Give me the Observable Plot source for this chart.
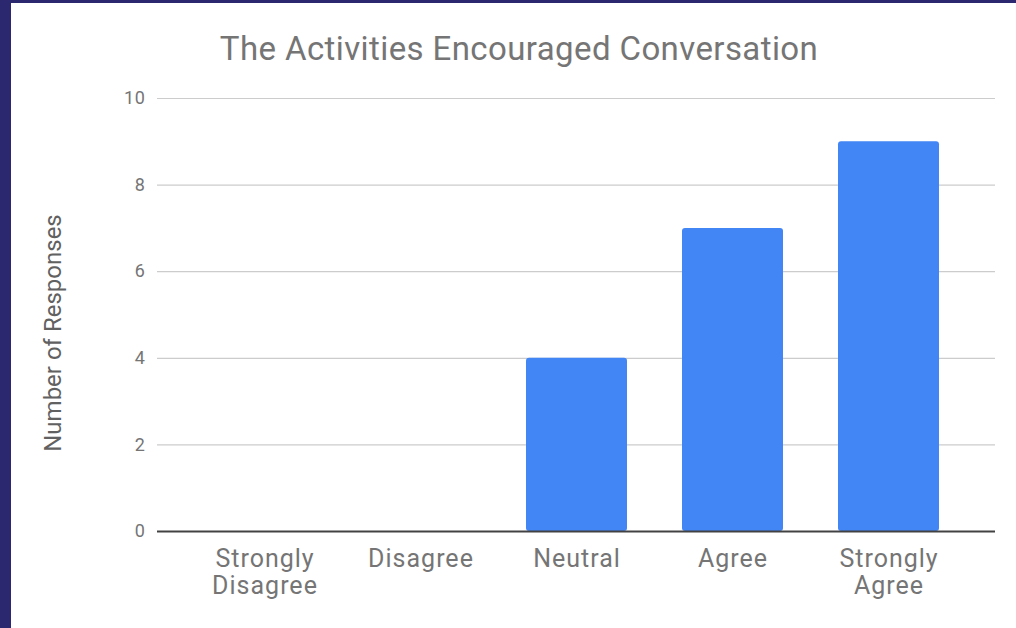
<!DOCTYPE html>
<html>
<head>
<meta charset="utf-8">
<script src="https://cdn.jsdelivr.net/npm/d3@7"></script>
<script src="https://cdn.jsdelivr.net/npm/@observablehq/plot@0.6"></script>
<style>
  html, body { margin: 0; padding: 0; background: #ffffff; }
  #frame {
    position: relative;
    width: 1005px;
    height: 625px;
    border-left: 11px solid #2b2870;
    border-top: 3px solid #2b2870;
    background: #ffffff;
    font-family: Roboto, "Noto Sans", sans-serif;
    color: #757575;
    overflow: hidden;
  }
  #title {
    box-sizing: border-box;
    height: 77px;
    padding-top: 26px;
    padding-left: 11px;
    text-align: center;
    font-size: 33px;
    letter-spacing: 0.4px;
    line-height: 40px;
    color: #757575;
  }
  #ylabel {
    position: absolute;
    left: 42px;
    top: 330px;
    transform: translate(-50%, -50%) rotate(-90deg);
    white-space: nowrap;
    font-size: 24px;
    line-height: 24px;
    color: #616161;
  }
  svg { display: block; }
  .xaxis text { letter-spacing: 1px; }
  .yaxis text { letter-spacing: 0.6px; }
</style>
</head>
<body>
<div id="frame">
  <div id="title">The Activities Encouraged Conversation</div>
  <div id="ylabel">Number of Responses</div>
  <div id="chart"></div>
</div>
<script>
// Survey responses per agreement level
const categories = ["Strongly Disagree", "Disagree", "Neutral", "Agree", "Strongly Agree"];
const responses = [0, 0, 4, 7, 9];
const yTicks = [0, 2, 4, 6, 8, 10];

const rows = categories.map((c, i) => ({category: c, count: responses[i]}));

const chart = Plot.plot({
  width: 1005,
  height: 548,
  marginLeft: 146,
  marginRight: 21,
  marginTop: 18,
  marginBottom: 97,
  style: {fontFamily: "Roboto, 'Noto Sans', sans-serif", color: "#757575", background: "#ffffff"},
  x: {domain: categories, padding: 0.355, label: null},
  y: {domain: [0, 10], label: null},
  marks: [
    Plot.gridY(yTicks, {stroke: "#cccccc", strokeOpacity: 1, strokeWidth: 1.2}),
    Plot.barY(rows.filter(d => d.count > 0), {x: "category", y: "count", fill: "#4285f4", rx: 3}),
    Plot.ruleY([0], {stroke: "#424242", strokeWidth: 2}),
    Plot.axisY(yTicks, {className: "yaxis", tickSize: 0, tickPadding: 12, fontSize: 18, fill: "#757575", label: null}),
    Plot.axisX({
      className: "xaxis",
      tickSize: 0,
      tickPadding: 16,
      fontSize: 25,
      lineHeight: 1.08,
      fill: "#757575",
      label: null,
      tickFormat: d => d.replace(" ", "\n")
    })
  ]
});

document.getElementById("chart").appendChild(chart);
</script>
</body>
</html>
